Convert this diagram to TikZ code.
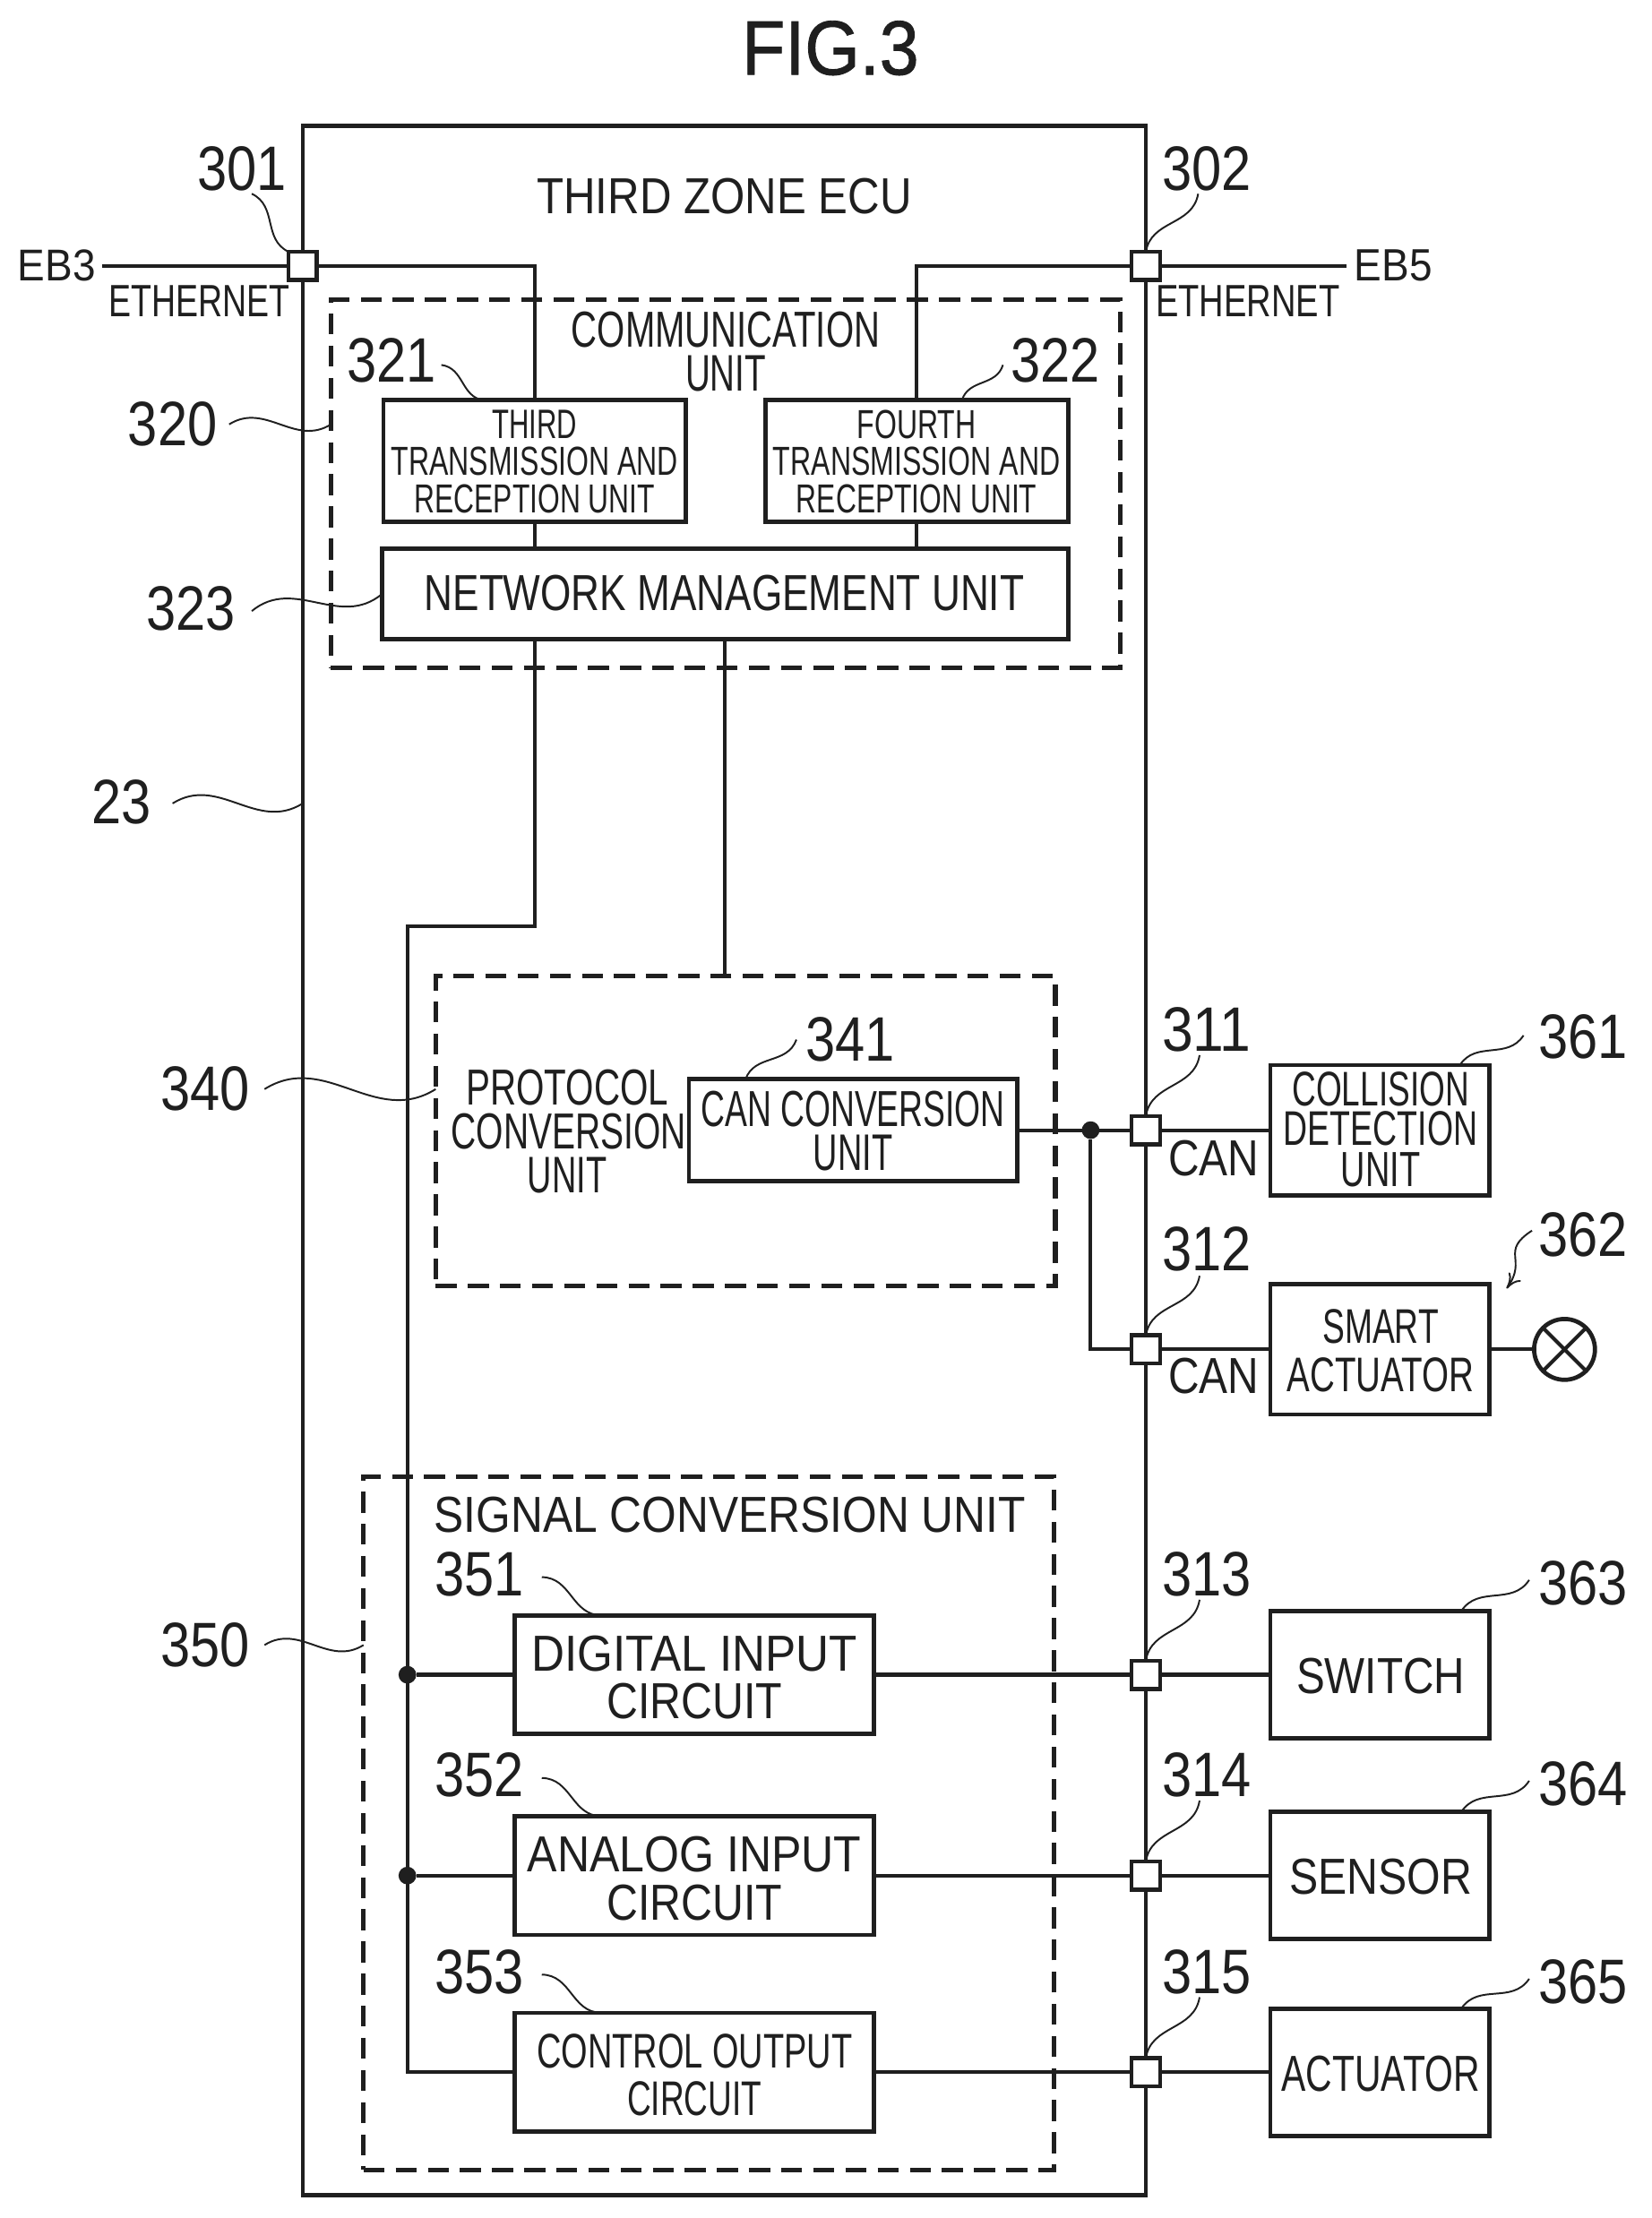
\documentclass[tikz,border=0pt]{standalone}
\usepackage{graphicx}
\usepackage{fontspec}
\setmainfont{Liberation Sans}
\usetikzlibrary{calc,arrows.meta}
\newlength\uu \setlength\uu{0.01996cm}
\newcounter{tc}
\tikzset{
  every picture/.style={x=0.01996cm,y=-0.01996cm},
  wire/.style={line width=1.5pt,draw=black!88},
  boxn/.style={draw=black!88,line width=1.7pt,rectangle,inner sep=0pt,outer sep=0pt,fill=white},
  dashbox/.style={draw=black!88,line width=1.9pt,dash pattern=on 8.4pt off 4.5pt,rectangle,inner sep=0pt,outer sep=0pt},
  portn/.style={draw=black!88,line width=1.6pt,fill=white,rectangle,inner sep=0pt,outer sep=0pt,minimum width=20\uu,minimum height=20\uu},
  dotn/.style={circle,fill=black!88,inner sep=0pt,minimum size=12.5\uu},
  lead/.style={line width=0.7pt,draw=black!88},
  txt/.style={inner sep=0pt,outer sep=0pt,text=black!88},
}
% box: name, x1,y1,x2,y2, style
\newcommand{\bx}[6]{\node[#6,minimum width={(#4-#2)*\uu},minimum height={(#5-#3)*\uu}] (#1) at ({(#2+#4)/2},{(#3+#5)/2}) {};}
% text: x,y,w,h,text
\newcommand{\tx}[5]{\stepcounter{tc}\node[txt] (t\arabic{tc}) at (#1,#2) {\resizebox{#3\uu}{#4\uu}{#5}};}
% reference number
\newcommand{\num}[3]{\tx{#1}{#2}{63}{31}{#3}}
% leader: id, start, end
\newcommand{\ld}[3]{\coordinate (ls#1) at (#2);\coordinate (le#1) at (#3);
  \draw[lead] (ls#1) .. controls ($(ls#1)!.42!32:(le#1)$) and ($(le#1)!.42!32:(ls#1)$) .. (le#1);}
\begin{document}
\begin{tikzpicture}
\useasboundingbox (0,0) rectangle (1167.3,1568.1);
\fill[white] (0,0) rectangle (1167.3,1568.1);
% outer box and dashed groups
\bx{ecu}{214}{89}{810}{1552}{draw=black!88,line width=1.7pt,rectangle,inner sep=0pt,outer sep=0pt}
\bx{comm}{234}{212}{792}{472}{dashbox}
\bx{prot}{308}{690}{746}{909}{dashbox}
\bx{sig}{257}{1044}{745}{1534}{dashbox}
% ports
\node[portn] (p301) at (214,188) {};
\node[portn] (p302) at (810,188) {};
\node[portn] (p311) at (810,799) {};
\node[portn] (p312) at (810,954) {};
\node[portn] (p313) at (810,1184) {};
\node[portn] (p314) at (810,1326) {};
\node[portn] (p315) at (810,1465) {};
% inner boxes
\bx{third}{271}{283}{485}{369}{boxn}
\bx{fourth}{541}{283}{755}{369}{boxn}
\bx{nmu}{270}{388}{755}{452}{boxn}
\bx{can}{487}{763}{719}{835}{boxn}
\bx{dig}{364}{1142}{618}{1226}{boxn}
\bx{ana}{364}{1284}{618}{1368}{boxn}
\bx{ctl}{364}{1423}{618}{1507}{boxn}
\bx{coll}{898}{753}{1053}{845}{boxn}
\bx{smart}{898}{908}{1053}{1000}{boxn}
\bx{sw}{898}{1139}{1053}{1229}{boxn}
\bx{sens}{898}{1281}{1053}{1371}{boxn}
\bx{act}{898}{1420}{1053}{1510}{boxn}
\node[boxn,circle,minimum size=43\uu] (lamp) at (1106,954) {};
\node[dotn] (d1) at (771,799) {};
\node[dotn] (d2) at (288,1184) {};
\node[dotn] (d3) at (288,1326) {};
\coordinate (eb3end) at (72,188);
\coordinate (eb5end) at (952,188);
\coordinate (b1) at (378,655);
\coordinate (b2) at (288,655);
% connectors
\draw[wire] (eb3end) -- (p301.west);
\draw[wire] (p302.east) -- (eb5end);
\draw[wire] (p301.east) -| (third.north);
\draw[wire] (p302.west) -| (fourth.north);
\draw[wire] (third.south) -- (third.south |- nmu.north);
\draw[wire] (fourth.south) -- (fourth.south |- nmu.north);
\draw[wire] (third.south |- nmu.south) -- (b1) -- (b2) |- (ctl.west);
\draw[wire] (nmu.south) -- (nmu.south |- prot.north);
\draw[wire] (can.east) -- (p311.west);
\draw[wire] (d1) |- (p312.west);
\draw[wire] (p311.east) -- (coll.west);
\draw[wire] (p312.east) -- (smart.west);
\draw[wire] (smart.east) -- (lamp.west);
\draw[wire] (lamp.north west) -- (lamp.south east) (lamp.north east) -- (lamp.south west);
\draw[wire] (d2) -- (dig.west);
\draw[wire] (d3) -- (ana.west);
\draw[wire] (dig.east) -- (p313.west);
\draw[wire] (ana.east) -- (p314.west);
\draw[wire] (ctl.east) -- (p315.west);
\draw[wire] (p313.east) -- (sw.west);
\draw[wire] (p314.east) -- (sens.west);
\draw[wire] (p315.east) -- (act.west);
% texts
\tx{587}{34}{125}{38}{\addfontfeature{FakeBold=1}FIG.3}
\tx{512}{139}{265}{25}{THIRD ZONE ECU}
\tx{40}{188}{55}{22}{EB3}
\tx{985}{188}{55}{22}{EB5}
\tx{141}{213}{128}{22}{ETHERNET}
\tx{882}{213}{130}{22}{ETHERNET}
\tx{513}{233}{218}{25}{COMMUNICATION}
\tx{513}{264}{57}{25}{UNIT}
\tx{378}{300}{60}{20}{THIRD}
\tx{378}{326}{203}{20}{TRANSMISSION AND}
\tx{378}{353}{170}{20}{RECEPTION UNIT}
\tx{648}{300}{84}{20}{FOURTH}
\tx{648}{326}{203}{20}{TRANSMISSION AND}
\tx{648}{353}{170}{20}{RECEPTION UNIT}
\tx{512}{419}{424}{25}{NETWORK MANAGEMENT UNIT}
\tx{401}{769}{143}{25}{PROTOCOL}
\tx{402}{800}{166}{25}{CONVERSION}
\tx{401}{831}{56}{25}{UNIT}
\tx{603}{784}{215}{25}{CAN CONVERSION}
\tx{603}{815}{56}{25}{UNIT}
\tx{858}{819}{64}{25}{CAN}
\tx{858}{973}{64}{25}{CAN}
\tx{976}{770}{125}{24}{COLLISION}
\tx{976}{798}{137}{24}{DETECTION}
\tx{976}{827}{56}{24}{UNIT}
\tx{976}{938}{82}{24}{SMART}
\tx{976}{972}{132}{24}{ACTUATOR}
\tx{516}{1071}{418}{25}{SIGNAL CONVERSION UNIT}
\tx{491}{1169}{230}{25}{DIGITAL INPUT}
\tx{491}{1203}{124}{25}{CIRCUIT}
\tx{491}{1311}{236}{25}{ANALOG INPUT}
\tx{491}{1345}{124}{25}{CIRCUIT}
\tx{491}{1450}{223}{24}{CONTROL OUTPUT}
\tx{491}{1484}{95}{24}{CIRCUIT}
\tx{976}{1185}{119}{25}{SWITCH}
\tx{976}{1327}{129}{25}{SENSOR}
\tx{976}{1466}{140}{25}{ACTUATOR}
% reference numbers
\num{171}{119}{301}
\num{853}{119}{302}
\num{277}{255}{321}
\num{746}{255}{322}
\num{122}{300}{320}
\num{135}{430}{323}
\tx{86}{567}{42}{31}{23}
\num{145}{770}{340}
\num{601}{735}{341}
\num{853}{728}{311}
\num{853}{883}{312}
\num{1119}{733}{361}
\num{1119}{873}{362}
\num{853}{1113}{313}
\num{853}{1255}{314}
\num{853}{1394}{315}
\num{1119}{1119}{363}
\num{1119}{1261}{364}
\num{1119}{1401}{365}
\num{145}{1163}{350}
\num{339}{1113}{351}
\num{339}{1255}{352}
\num{339}{1394}{353}
% leaders
\ld{a}{178,137}{p301.north west}
\ld{b}{847,137}{p302.north}
\ld{c}{312,258}{342,283}
\ld{d}{709,258}{680,283}
\ld{e}{162,300}{comm.west |- 0,300}
\ld{f}{178,432}{nmu.west}
\ld{g}{122,568}{ecu.west |- 0,568}
\ld{h}{187,770}{prot.west |- 0,770}
\ld{i}{563,735}{527,763}
\ld{j}{848,746}{p311.north}
\ld{k}{848,902}{p312.north}
\ld{l}{848,1131}{p313.north}
\ld{m}{848,1273}{p314.north}
\ld{n}{848,1412}{p315.north}
\ld{o}{1077,732}{1032,753}
\ld{p}{1081,1117}{1033,1139}
\ld{q}{1081,1259}{1033,1281}
\ld{r}{1081,1399}{1033,1420}
\ld{s}{187,1163}{sig.west |- 0,1163}
\ld{t}{383,1115}{425,1142}
\ld{u}{383,1257}{425,1284}
\ld{v}{383,1396}{425,1423}
\coordinate (arrS) at (1083,870);
\coordinate (arrE) at (1065,911);
\draw[lead,-{To[length=6pt,width=6pt]}] (arrS) .. controls (1060,885) and (1080,890) .. (arrE);
\end{tikzpicture}
\end{document}
